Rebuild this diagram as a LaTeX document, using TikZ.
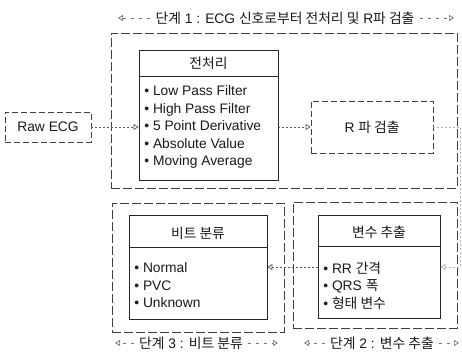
\documentclass[tikz,border=0pt]{standalone}
\usepackage{fontspec}
\setmainfont{Liberation Sans}
\newfontfamily\kr{Noto Sans CJK KR}
\usetikzlibrary{arrows.meta}
\begin{document}
\begin{tikzpicture}[x=1pt,y=-1pt,
  line width=0.7pt,
  every node/.style={font=\fontsize{13.8}{17.5}\selectfont, inner sep=0pt, text=black!90},
  dbox/.style={draw=black!75, dash pattern=on 9pt off 3pt, rectangle},
  sbox/.style={draw=black!85, rectangle},
  conn/.style={draw=black!65, dash pattern=on 2pt off 2pt, -{Triangle[open,length=5pt,width=6pt]}},
  stagearr/.style={draw=black!55, dash pattern=on 3pt off 5pt, -{Triangle[open,length=5pt,width=6pt]}},
  lab/.style={fill=white, inner xsep=5pt, inner ysep=2pt},
  items/.style={align=left, anchor=west}
]
\useasboundingbox (0,0) rectangle (462,352);

% stage boxes
\node[dbox, minimum width=346pt, minimum height=155pt] (s1) at (284,110.5) {};
\node[dbox, minimum width=172pt, minimum height=129pt] (s3) at (198,267.5) {};
\node[dbox, minimum width=164pt, minimum height=126pt] (s2) at (375,265) {};

% raw ECG
\node[dbox, dash pattern=on 6pt off 3pt, minimum width=86pt, minimum height=30pt] (raw) at (48,127) {Raw ECG};

% preprocessing box
\node[sbox, minimum width=139pt, minimum height=130pt] (pre) at (208.5,115) {};
\coordinate (h1) at (0,76);
\draw[black!85] (pre.west |- h1) -- (pre.east |- h1);
\node (preh) at (208.5,63) {\kr 전처리};
\node[items] (prei) at (144,127) {• Low Pass Filter\\• High Pass Filter\\• 5 Point Derivative\\• Absolute Value\\• Moving Average};

% R peak detection
\node[dbox, dash pattern=on 6pt off 3pt, minimum width=122pt, minimum height=52pt] (R) at (372,127) {R {\kr 파 검출}};

% beat classification
\node[sbox, minimum width=138pt, minimum height=104pt] (beat) at (198,267) {};
\coordinate (h3) at (0,247);
\draw[black!85] (beat.west |- h3) -- (beat.east |- h3);
\node (beath) at (198,233) {\kr 비트 분류};
\node[items] (beati) at (134,285.5) {• Normal\\• PVC\\• Unknown};

% feature extraction
\node[sbox, minimum width=122pt, minimum height=103pt] (var) at (379,267) {};
\coordinate (h2) at (0,246);
\draw[black!85] (var.west |- h2) -- (var.east |- h2);
\node (varh) at (379,232) {\kr 변수 추출};
\node[items] (vari) at (323,285.5) {• RR {\kr 간격}\\• QRS {\kr 폭}\\• {\kr 형태 변수}};

% connectors
\draw[conn] (raw) -- (raw -| pre.west);
\draw[conn] (pre.east |- R) -- (R);
\coordinate (rc) at (460,127);
\draw[conn, draw=black!30] (R) -- (rc) |- (var);
\draw[conn] (var) -- (beat);

% stage labels
\node[lab] (t1) at (285,18) {{\kr 단계} 1 : ECG {\kr 신호로부터 전처리 및} R{\kr 파 검출}};
\coordinate (t1l) at (118,18);
\coordinate (t1r) at (454,18);
\draw[stagearr] (t1) -- (t1l);
\draw[stagearr] (t1) -- (t1r);

\node[lab] (t3) at (191,343) {{\kr 단계} 3 : {\kr 비트 분류}};
\coordinate (t3l) at (115,343);
\coordinate (t3r) at (278,343);
\draw[stagearr] (t3) -- (t3l);
\draw[stagearr] (t3) -- (t3r);

\node[lab] (t2) at (382,343) {{\kr 단계} 2 : {\kr 변수 추출}};
\coordinate (t2l) at (304,343);
\coordinate (t2r) at (459,343);
\draw[stagearr] (t2) -- (t2l);
\draw[stagearr] (t2) -- (t2r);
\end{tikzpicture}
\end{document}
